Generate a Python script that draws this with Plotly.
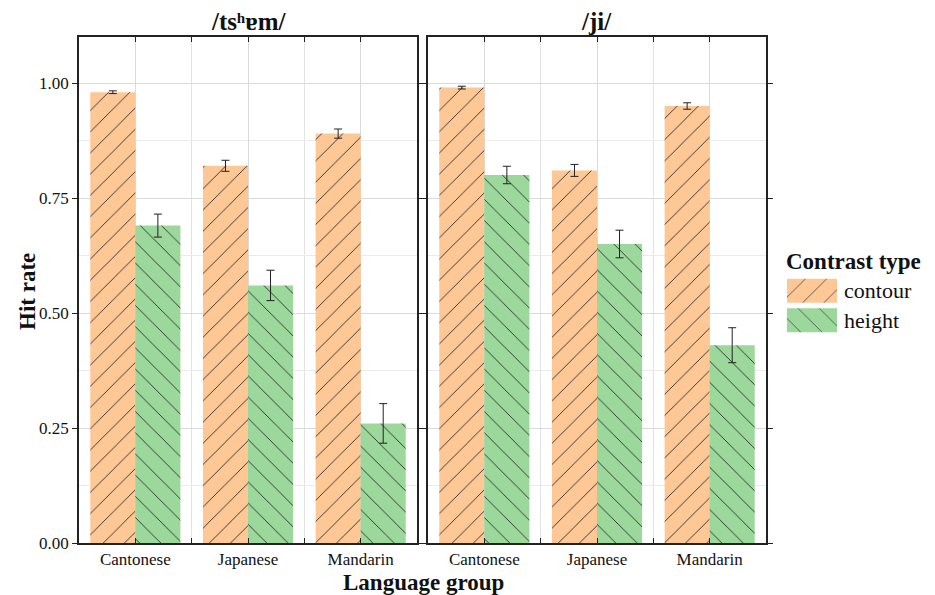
import plotly.graph_objects as go

# ---- data ----
languages = ["Cantonese", "Japanese", "Mandarin"]
contrast_types = ["contour", "height"]
panel_titles = ["/tsʰɐm/", "/ji/"]

tsham_contour = [0.98, 0.82, 0.89]
tsham_contour_err = [0.003, 0.012, 0.010]
tsham_height = [0.69, 0.56, 0.26]
tsham_height_err = [0.025, 0.033, 0.043]

ji_contour = [0.99, 0.81, 0.95]
ji_contour_err = [0.003, 0.013, 0.007]
ji_height = [0.80, 0.65, 0.43]
ji_height_err = [0.019, 0.030, 0.038]

y_ticks = [0.0, 0.25, 0.5, 0.75, 1.0]

# ---- styles ----
W, H = 935, 595
ORANGE = "#FDC896"
GREEN = "#9CD89C"
colors = {"contour": ORANGE, "height": GREEN}
shapes_ = {"contour": "/", "height": "\\"}
FONT = "Liberation Serif"

def px_x(p):
    return p / W

def px_y(p):
    return 1 - p / H

fig = go.Figure()

panels = [
    (tsham_contour, tsham_contour_err, tsham_height, tsham_height_err),
    (ji_contour, ji_contour_err, ji_height, ji_height_err),
]
xidx = list(range(len(languages)))

for i, (c, ce, h, he) in enumerate(panels):
    xa = "x" if i == 0 else "x2"
    ya = "y" if i == 0 else "y2"
    for name, vals, errs in [("contour", c, ce), ("height", h, he)]:
        fig.add_trace(go.Bar(
            x=xidx, y=vals, name=name, xaxis=xa, yaxis=ya,
            offsetgroup=name, showlegend=False,
            marker=dict(color=colors[name], line=dict(width=0),
                        pattern=dict(shape=shapes_[name], fgcolor="#1a1a1a",
                                     fgopacity=0.9, size=15, solidity=0.06)),
            error_y=dict(type="data", array=errs, color="#222222",
                         thickness=1, width=4),
        ))

# legend swatches drawn as bars on a small hidden axis
fig.add_trace(go.Bar(
    x=[1, 1], y=contrast_types, orientation="h", xaxis="x3", yaxis="y3",
    showlegend=False, hoverinfo="skip", width=0.82,
    marker=dict(color=[colors[t] for t in contrast_types], line=dict(width=0),
                pattern=dict(shape=[shapes_[t] for t in contrast_types],
                             fgcolor="#1a1a1a", fgopacity=0.9, size=15, solidity=0.06)),
))

y_dom = [px_y(543), px_y(37)]
x1_dom = [px_x(79), px_x(417)]
x2_dom = [px_x(428), px_x(766)]

common_x = dict(
    range=[-0.5, 2.5], tickmode="array", tickvals=xidx, ticktext=languages,
    showline=True, linecolor="#222222", linewidth=1.5, mirror="ticks",
    ticks="inside", ticklen=5, tickcolor="#222222",
    showgrid=True, gridcolor="#DADADA", gridwidth=1,
    minor=dict(dtick=0.5, tick0=0, ticks="inside", ticklen=5, tickcolor="#222222",
               showgrid=True, gridcolor="#E3E3E3"),
    tickfont=dict(family=FONT, size=17, color="#111111"),
    zeroline=False, automargin=False, fixedrange=True,
)
common_y = dict(
    range=[0, 1.1], tickmode="array", tickvals=y_ticks,
    showline=True, linecolor="#222222", linewidth=1.5, mirror="ticks",
    ticks="outside", ticklen=5, tickcolor="#222222",
    showgrid=True, gridcolor="#DADADA", gridwidth=1,
    minor=dict(dtick=0.125, tick0=0, showgrid=True, gridcolor="#EBEBEB"),
    zeroline=False, automargin=False, fixedrange=True,
)

fig.update_layout(
    width=W, height=H,
    margin=dict(l=0, r=0, t=0, b=0),
    paper_bgcolor="white", plot_bgcolor="white",
    font=dict(family=FONT, color="#111111"),
    barmode="group", bargap=0.2, bargroupgap=0,
    showlegend=False,
    xaxis=dict(domain=x1_dom, anchor="y", **common_x),
    xaxis2=dict(domain=x2_dom, anchor="y2", **common_x),
    yaxis=dict(domain=y_dom, anchor="x", tickformat=".2f",
               tickfont=dict(family=FONT, size=17, color="#111111"), **common_y),
    yaxis2=dict(domain=y_dom, anchor="x2", showticklabels=False, matches="y", **common_y),
    xaxis3=dict(domain=[px_x(787), px_x(837)], anchor="y3", range=[0, 1],
                visible=False, fixedrange=True),
    yaxis3=dict(domain=[px_y(335), px_y(276)], anchor="x3",
                autorange="reversed", visible=False, fixedrange=True),
)

annotations = [
    dict(text="<b>%s</b>" % panel_titles[0], x=(x1_dom[0] + x1_dom[1]) / 2, y=px_y(22),
         font=dict(family=FONT, size=25, color="#111111")),
    dict(text="<b>%s</b>" % panel_titles[1], x=(x2_dom[0] + x2_dom[1]) / 2, y=px_y(22),
         font=dict(family=FONT, size=25, color="#111111")),
    dict(text="<b>Hit rate</b>", x=px_x(27), y=px_y(292), textangle=-90,
         font=dict(family=FONT, size=23, color="#111111")),
    dict(text="<b>Language group</b>", x=px_x(423), y=px_y(582),
         font=dict(family=FONT, size=23, color="#111111")),
    dict(text="<b>Contrast type</b>", x=px_x(784), y=px_y(261), xanchor="left",
         font=dict(family=FONT, size=23, color="#111111")),
]
for a in annotations:
    a.setdefault("xanchor", "center")
    fig.add_annotation(xref="paper", yref="paper", showarrow=False, yanchor="middle", **a)

# legend labels, one per contrast type, placed beside its swatch
for t in contrast_types:
    fig.add_annotation(text=t, xref="paper", yref="y3", x=px_x(842), y=t,
                       xanchor="left", yanchor="middle", showarrow=False,
                       font=dict(family=FONT, size=22, color="#111111"))

fig.write_html("out.html", config={"displayModeBar": False},
               post_script="document.body.style.margin='0';")
